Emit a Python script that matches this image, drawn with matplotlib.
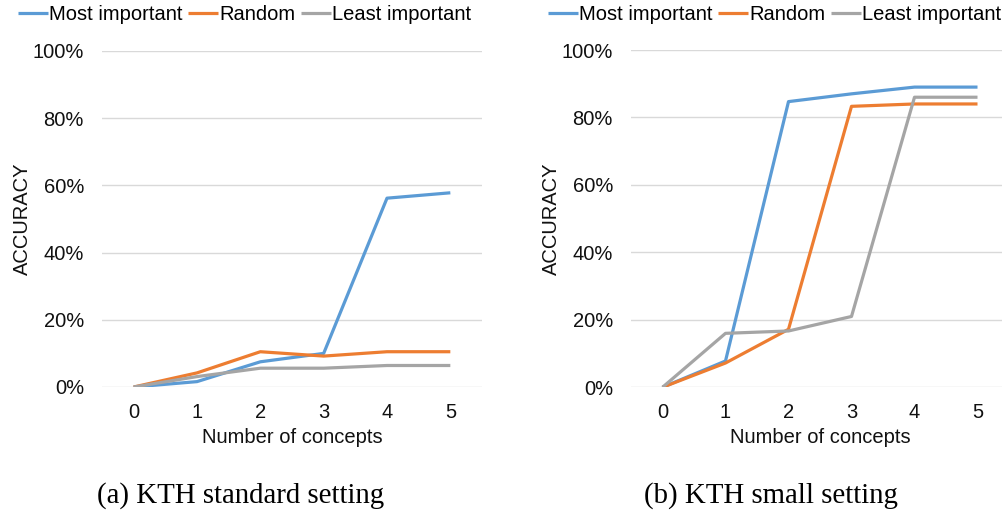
import matplotlib
matplotlib.use("Agg")
import matplotlib.pyplot as plt
from matplotlib.ticker import PercentFormatter

plt.rcParams['font.family'] = ['Liberation Sans', 'DejaVu Sans']

concepts = [0, 1, 2, 3, 4, 5]
series_names = ["Most important", "Random", "Least important"]
colors = ["#5B9BD5", "#ED7D31", "#A5A5A5"]

# Accuracy (%) vs number of concepts removed
standard_most = [0.0, 1.6, 7.5, 10.0, 56.2, 57.8]
standard_random = [0.0, 4.2, 10.5, 9.2, 10.5, 10.5]
standard_least = [0.0, 3.1, 5.6, 5.6, 6.4, 6.4]

small_most = [0.0, 7.8, 84.7, 87.0, 89.0, 89.0]
small_random = [0.0, 7.2, 17.2, 83.3, 84.0, 84.0]
small_least = [0.0, 16.0, 16.7, 21.0, 86.0, 86.0]

y_ticks = [0, 20, 40, 60, 80, 100]
captions = ["(a) KTH standard setting", "(b) KTH small setting"]

W, H = 1002, 519
FS = 14.5
fig = plt.figure(figsize=(W / 100, H / 100), dpi=100)


def px_axes(x0, x1, ybot, ytop):
    return fig.add_axes([x0 / W, 1 - ybot / H, (x1 - x0) / W, (ybot - ytop) / H])


ax_a = px_axes(102, 482, 387, 51)
ax_b = px_axes(631, 1009, 387.3, 50)

panels = [
    (ax_a, [standard_most, standard_random, standard_least]),
    (ax_b, [small_most, small_random, small_least]),
]

for ax, data in panels:
    for vals, name, c in zip(data, series_names, colors):
        ax.plot(concepts, vals, color=c, lw=2.3, label=name, solid_capstyle='butt')
    ax.set_xlim(-0.5, 5.5)
    ax.set_ylim(0, 100)
    ax.set_xticks(concepts)
    ax.set_yticks(y_ticks)
    ax.yaxis.set_major_formatter(PercentFormatter(decimals=0))
    ax.grid(axis='y', color='#D9D9D9', lw=1)
    ax.set_axisbelow(True)
    for s in ax.spines.values():
        s.set_visible(False)
    ax.tick_params(length=0, labelsize=FS, colors='#111111')
    ax.tick_params(axis='x', pad=11.5)
    ax.tick_params(axis='y', pad=13)
    ax.set_xlabel("Number of concepts", fontsize=FS, color='#111111')
    ax.xaxis.set_label_coords(0.5, -0.15)
    ax.xaxis.label.set_va('center')
    ax.set_ylabel("ACCURACY", fontsize=FS, color='#111111')
    ax.yaxis.set_label_coords(-0.21, 0.5)
    ax.yaxis.label.set_va('center')

legend_left = [18, 548]
for ax, lx in zip([ax_a, ax_b], legend_left):
    ax.legend(loc='center left', bbox_to_anchor=(lx / W, 1 - 15 / H),
              bbox_transform=fig.transFigure, ncol=3, frameon=False,
              fontsize=FS, handlelength=1.5, handletextpad=0.06,
              columnspacing=0.25, borderpad=0, borderaxespad=0)

caption_x = [241, 771]
for cx, cap in zip(caption_x, captions):
    fig.text(cx / W, 1 - 496 / H, cap, ha='center', va='center',
             fontsize=20.8, family=['Liberation Serif', 'DejaVu Serif'], color='black')

fig.savefig("out.png", dpi=100, facecolor='white')
